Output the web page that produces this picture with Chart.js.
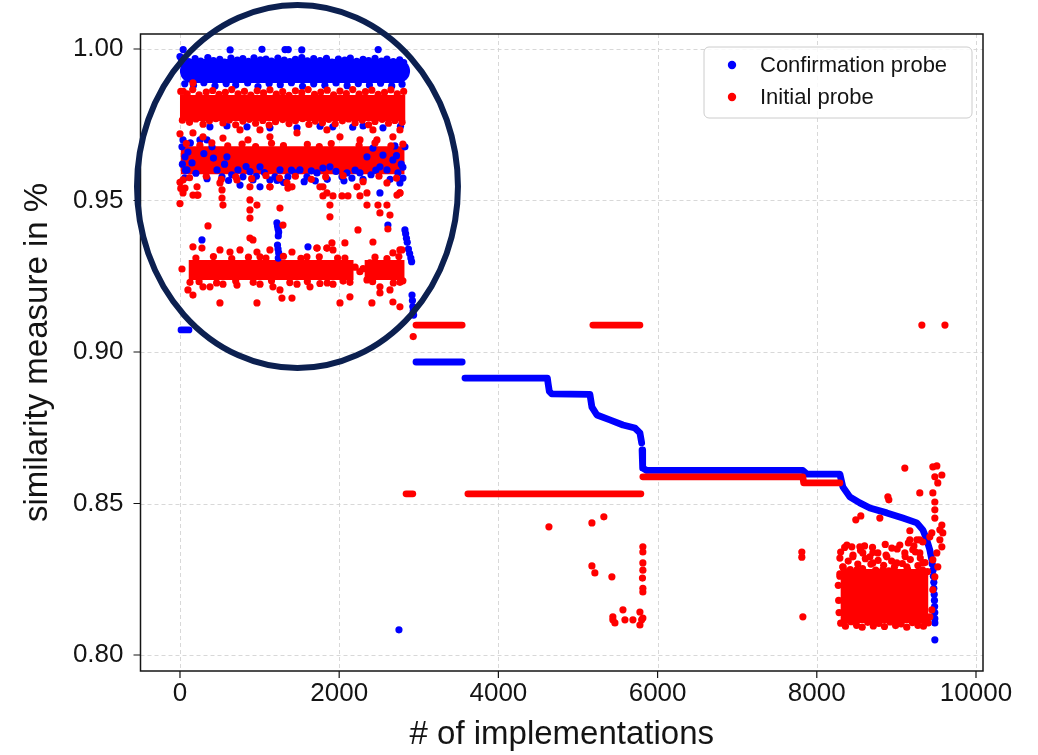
<!DOCTYPE html>
<html><head><meta charset="utf-8">
<script src="https://cdn.jsdelivr.net/npm/chart.js@4.4.1/dist/chart.umd.min.js"></script>
<style>html,body{margin:0;padding:0;background:#fff}canvas{display:block}</style>
</head><body>
<canvas id="c" width="1038" height="755"></canvas>
<script>
// ---------- tick labels / names ----------
const xTicks = [0, 2000, 4000, 6000, 8000, 10000];
const yTicks = [0.80, 0.85, 0.90, 0.95, 1.00];
const seriesNames = ['Confirmation probe', 'Initial probe'];
const xTitle = '# of implementations';
const yTitle = 'similarity measure in %';

// ---------- dense runs of points ----------
const blueTopBand   = [[150, 0.9927], [2740, 0.9927]];
const redTopBand    = [[0, 0.9805], [2830, 0.9805]];
const redMidBand    = [[10, 0.9633], [2820, 0.9633]];
const redLowBand1   = [[110, 0.9271], [2180, 0.9271]];
const redLowBand2   = [[2320, 0.9271], [2820, 0.9271]];
const redRightBand  = [[8300, 0.8195], [9400, 0.8195]];
const blue907       = [[13, 0.9073], [113, 0.9073]];
const blueStep1     = [[2965, 0.8967], [3545, 0.8967]];
const blueStep2     = [[3580, 0.8914], [4615, 0.8914], [4625, 0.8895], [4640, 0.8870], [4670, 0.8862], [5150, 0.8860], [5175, 0.8818], [5238, 0.8792], [5400, 0.8776], [5565, 0.8759], [5715, 0.8749], [5778, 0.8733], [5800, 0.8700]];
const blueStep3     = [[5805, 0.8677], [5810, 0.8637], [5815, 0.8617], [5865, 0.8609], [7825, 0.8609], [7875, 0.8597], [8290, 0.8597], [8327, 0.8555], [8415, 0.8522], [8540, 0.8502], [8667, 0.8485], [8880, 0.8469], [9081, 0.8452], [9257, 0.8436], [9332, 0.8413], [9382, 0.8380], [9420, 0.8347], [9445, 0.8314]];
const redStep909a   = [[2965, 0.9089], [3545, 0.9089]];
const redStep909b   = [[5187, 0.9089], [5778, 0.9089]];
const redStep853a   = [[2840, 0.8532], [2925, 0.8532]];
const redStep853b   = [[3617, 0.8532], [5790, 0.8532]];
const redStep859    = [[5815, 0.8588], [7825, 0.8588], [7835, 0.8568], [8290, 0.8568]];

// ---------- individual points ----------
const blueDots = [
 [20,0.9965],[110,0.9958],[190,0.9968],[260,0.9960],[350,0.9972],[420,0.9962],[500,0.9966],[560,0.9957],[640,0.9970],[720,0.9963],[790,0.9968],[860,0.9959],[930,0.9971],[1010,0.9964],[1080,0.9967],[1150,0.9960],[1230,0.9970],[1310,0.9963],[1380,0.9958],[1450,0.9966],[1530,0.9972],[1600,0.9961],[1680,0.9968],[1760,0.9962],[1840,0.9969],[1910,0.9957],[1990,0.9967],[2070,0.9963],[2140,0.9970],[2220,0.9959],[2300,0.9966],[2370,0.9962],[2450,0.9969],[2530,0.9960],[2600,0.9967],[2680,0.9958],[2760,0.9964],[2810,0.9955],
 [0,0.9975],[40,0.9998],[630,0.9997],[1030,0.9999],[1320,0.9998],[1360,0.9998],[1530,0.9997],[2490,0.9998],
 [60,0.9885],[170,0.9880],[300,0.9889],[440,0.9878],[580,0.9886],[700,0.9881],[850,0.9888],[980,0.9876],[1120,0.9886],[1260,0.9882],[1400,0.9889],[1540,0.9877],[1680,0.9885],[1820,0.9880],[1960,0.9888],[2100,0.9879],[2240,0.9886],[2380,0.9881],[2520,0.9887],[2660,0.9878],[2790,0.9884],
 [376,0.9743],[590,0.9746],[842,0.9743],[1130,0.9740],[1470,0.9740],[1760,0.9745],[1920,0.9743],[2170,0.9742],[2300,0.9746],[2550,0.9740],[2770,0.9745],
 [38,0.9700],[25,0.9677],[63,0.9644],[88,0.9601],[151,0.9624],[251,0.9700],[339,0.9700],[402,0.9677],[465,0.9601],[528,0.9578],[590,0.9644],[728,0.9601],[791,0.9578],[917,0.9568],[1005,0.9611],[1130,0.9568],[1193,0.9578],[1256,0.9601],[1356,0.9578],[1444,0.9591],[1507,0.9601],[1595,0.9578],[1721,0.9591],[1796,0.9607],[1884,0.9611],[2035,0.9578],[2098,0.9591],[2160,0.9574],[2261,0.9591],[2349,0.9644],[2424,0.9673],[2512,0.9611],[2600,0.9601],[2675,0.9634],[2738,0.9591],[2801,0.9574],[2826,0.9677],[2763,0.9558],[2512,0.9525],[754,0.9551],[1005,0.9545],
 [300,0.9655],[420,0.9640],[560,0.9620],[650,0.9585],[880,0.9595],[1300,0.9560],[1700,0.9565],[2200,0.9600],[2400,0.9585],[2550,0.9650],[2700,0.9680],[2780,0.9620],[100,0.9660],[60,0.9575],
 [200,0.9590],[340,0.9572],[610,0.9566],[830,0.9612],[960,0.9580],[1060,0.9592],[1220,0.9566],[1400,0.9600],[1560,0.9562],[1650,0.9598],[1850,0.9570],[1960,0.9596],[2060,0.9565],[2300,0.9570],[2460,0.9600],[2640,0.9570],[2720,0.9648],[2800,0.9610],[30,0.9620],[70,0.9600],[130,0.9690],
 [276,0.9370],[1608,0.9347],[2612,0.9419],[1218,0.9426],[1225,0.9416],[1232,0.9406],[1240,0.9396],[1235,0.9383],[1225,0.9353],[1232,0.9340],[1240,0.9327],[1235,0.9310],
 [2826,0.9403],[2835,0.9390],[2845,0.9375],[2855,0.9362],[2870,0.9340],[2885,0.9325],[2900,0.9310],[2910,0.9298],[2915,0.9188],[2920,0.9170],[2925,0.9150],[2930,0.9135],[2935,0.9122],
 [2751,0.8083],
 [9450,0.8300],[9460,0.8280],[9465,0.8260],[9470,0.8240],[9470,0.8220],[9475,0.8200],[9478,0.8180],[9480,0.8160],[9482,0.8140],[9483,0.8120],[9483,0.8106],[9483,0.8050]
];

const redDots = [
 [163,0.9888],[40,0.9860],
 [10,0.9860],[90,0.9852],[160,0.9866],[240,0.9849],[330,0.9858],[410,0.9863],[490,0.9850],[570,0.9857],[650,0.9866],[730,0.9852],[810,0.9860],[890,0.9848],[970,0.9862],[1050,0.9855],[1130,0.9865],[1210,0.9851],[1290,0.9859],[1370,0.9847],[1450,0.9862],[1530,0.9856],[1610,0.9866],[1690,0.9850],[1770,0.9858],[1850,0.9864],[1930,0.9849],[2010,0.9861],[2090,0.9853],[2170,0.9866],[2250,0.9851],[2330,0.9859],[2410,0.9864],[2490,0.9850],[2570,0.9857],[2650,0.9865],[2730,0.9852],[2810,0.9860],
 [30,0.9765],[120,0.9758],[200,0.9769],[290,0.9752],[370,0.9763],[450,0.9770],[540,0.9756],[620,0.9766],[700,0.9750],[790,0.9762],[870,0.9768],[950,0.9755],[1040,0.9764],[1120,0.9749],[1200,0.9760],[1290,0.9767],[1370,0.9754],[1450,0.9763],[1540,0.9770],[1620,0.9751],[1700,0.9762],[1790,0.9757],[1870,0.9768],[1950,0.9753],[2040,0.9763],[2120,0.9769],[2200,0.9756],[2290,0.9765],[2370,0.9750],[2450,0.9761],[2540,0.9768],[2620,0.9755],[2700,0.9764],[2790,0.9758],
 [163,0.9723],[289,0.9710],[540,0.9706],[854,0.9700],[754,0.9733],[1005,0.9733],[1130,0.9710],[1470,0.9723],[1846,0.9733],[2010,0.9710],[2474,0.9700],[2675,0.9710],[2763,0.9733],[2424,0.9733],[2261,0.9700],
 [38,0.9568],[214,0.9545],[502,0.9558],[716,0.9568],[879,0.9545],[1130,0.9545],[1344,0.9558],[1407,0.9545],[1758,0.9545],[1846,0.9525],[2223,0.9545],[2349,0.9525],[2600,0.9558],[2763,0.9525],[38,0.9525],[214,0.9518],
 [80,0.9688],[250,0.9682],[400,0.9690],[600,0.9680],[780,0.9686],[950,0.9678],[1150,0.9689],[1300,0.9681],[1600,0.9685],[1750,0.9678],[1900,0.9688],[2250,0.9682],[2450,0.9690],[2650,0.9680],[2800,0.9686],
 [120,0.9575],[330,0.9580],[520,0.9570],[700,0.9578],[900,0.9572],[1080,0.9582],[1250,0.9574],[1450,0.9580],[1650,0.9570],[1830,0.9578],[2050,0.9582],[2300,0.9562],[2500,0.9580],[2720,0.9574],
 [0,0.9720],[0,0.9560],[0,0.9490],[10,0.9540],
 [63,0.9541],[163,0.9518],[226,0.9518],[528,0.9535],[528,0.9508],[540,0.9485],[879,0.9502],[879,0.9469],[879,0.9442],[967,0.9485],[879,0.9376],[352,0.9416],[1256,0.9475],[1294,0.9419],[1130,0.9545],[1356,0.9541],[1796,0.9545],[1796,0.9515],[1884,0.9485],[1884,0.9446],[1922,0.9515],[2035,0.9515],[2110,0.9515],[2261,0.9515],[2349,0.9485],[2487,0.9485],[2600,0.9485],[2512,0.9459],[2638,0.9452],[2726,0.9518],[2763,0.9525],[2236,0.9403],[2424,0.9363],[2612,0.9406],[2763,0.9337],[2072,0.9360],[1909,0.9360],[917,0.9370],[1721,0.9343],[1846,0.9343],
 [163,0.9347],[276,0.9343],[502,0.9337],[628,0.9330],[754,0.9337],[967,0.9330],[1005,0.9314],[1130,0.9337],[1407,0.9330],[1595,0.9314],[1721,0.9343],[1846,0.9343],[1922,0.9337],[2072,0.9310],[2386,0.9294],[2675,0.9327],[2788,0.9337],
 [126,0.9230],[289,0.9215],[377,0.9215],[540,0.9224],[716,0.9221],[1005,0.9224],[1168,0.9215],[1256,0.9205],[1470,0.9224],[1633,0.9215],[1758,0.9226],[1922,0.9224],[2135,0.9230],[2349,0.9238],[2512,0.9215],[2638,0.9205],[2763,0.9230],[2512,0.9195],
 [25,0.9274],[100,0.9205],[163,0.9188],[502,0.9162],[967,0.9162],[1281,0.9178],[1407,0.9178],[2010,0.9162],[2135,0.9182],[2411,0.9162],[2675,0.9165],[2763,0.9149],
 [200,0.9310],[420,0.9315],[650,0.9308],[860,0.9313],[1080,0.9310],[1300,0.9316],[1520,0.9309],[1750,0.9314],[1980,0.9310],[2450,0.9313],[2600,0.9308],[2750,0.9315],
 [240,0.9232],[460,0.9228],[700,0.9234],[920,0.9230],[1150,0.9235],[1380,0.9229],[1600,0.9233],[1850,0.9228],[2050,0.9234],[2420,0.9232],[2680,0.9228],[2800,0.9235],
 [2200,0.9280],[2260,0.9265],[2300,0.9275],[2930,0.9051],
 [4635,0.8423],[5175,0.8436],[5325,0.8456],[5175,0.8294],[5212,0.8271],[5426,0.8258],
 [5438,0.8126],[5464,0.8106],[5565,0.8149],[5590,0.8116],[5690,0.8116],[5778,0.8142],[5800,0.8116],[5778,0.8099],[5815,0.8122],[5438,0.8116],
 [5815,0.8357],[5815,0.8340],[5815,0.8304],[5815,0.8280],[5810,0.8254],[5815,0.8220],[5815,0.8208],
 [7812,0.8340],[7812,0.8323],[7825,0.8126],
 [9320,0.9089],[9610,0.9089],
 [9106,0.8617],[9294,0.8535],[8893,0.8522],[8905,0.8512],[8792,0.8452],[8490,0.8446],[8553,0.8459],[9169,0.8410],[9294,0.8380],[9332,0.8373],
 [8378,0.8363],[8440,0.8357],[8541,0.8357],[8578,0.8337],[8290,0.8320],[8453,0.8324],[8667,0.8324],[8767,0.8337],[8880,0.8324],[8943,0.8353],[9043,0.8363],[9169,0.8380],[9106,0.8337],[9206,0.8347],[9294,0.8337],[9006,0.8304],[8704,0.8304],[8327,0.8291],[8503,0.8281],[8830,0.8281],[9131,0.8291],[9332,0.8304],[9257,0.8380],
 [8290,0.8268],[8330,0.8290],[8360,0.8275],[8395,0.8310],[8420,0.8282],[8455,0.8330],[8480,0.8270],[8515,0.8300],[8550,0.8345],[8575,0.8285],[8610,0.8318],[8640,0.8272],[8680,0.8300],[8705,0.8338],[8740,0.8280],[8770,0.8312],[8805,0.8270],[8840,0.8296],[8870,0.8330],[8905,0.8278],[8940,0.8310],[8975,0.8290],[9010,0.8350],[9040,0.8270],[9075,0.8302],[9110,0.8325],[9140,0.8283],[9175,0.8315],[9210,0.8272],[9240,0.8340],[9270,0.8295],[9300,0.8320],[9330,0.8280],[9360,0.8305],[9390,0.8275],[8350,0.8355],[8600,0.8360],[8860,0.8365],[9150,0.8370],[9220,0.8360],[8300,0.8340],[8700,0.8355],
 [8300,0.8105],[8360,0.8095],[8430,0.8110],[8500,0.8098],[8570,0.8092],[8640,0.8108],[8710,0.8096],[8780,0.8104],[8850,0.8094],[8920,0.8109],[8990,0.8097],[9060,0.8103],[9130,0.8092],[9200,0.8107],[9270,0.8098],[9340,0.8095],[9400,0.8106],
 [8275,0.8180],[8270,0.8230],[8280,0.8140],[8290,0.8260],
 [9458,0.8621],[9508,0.8624],[9483,0.8588],[9571,0.8594],[9520,0.8568],[9458,0.8535],[9483,0.8505],[9483,0.8479],[9483,0.8452],[9571,0.8429],[9445,0.8403],[9546,0.8380],[9571,0.8357],[9420,0.8390],[9508,0.8337],[9458,0.8314],[9520,0.8291],[9483,0.8258],[9458,0.8215],[9445,0.8149],[9420,0.8126],[9546,0.8413],[9583,0.8403]
];

// ---------- annotation (overlay ellipse, in data units) ----------
const highlightEllipse = { cx: 1476, cy: 0.9546, rx: 2016, ry: 0.0599 };
const xLimits = [-496, 10088];
const yLimits = [0.79472, 1.00495];

// ---------- styles ----------
const BLUE = '#0000ff', RED = '#ff0000', INK = '#141414', NAVY = '#0c2050';
const FONT = '"Liberation Sans", Arial, Helvetica, sans-serif';
const DOT_R = 3.6, STEP_W = 6.8;

function pts(a) { return a.map(p => ({ x: p[0], y: p[1] })); }
function run(data, color, width, cap, order) {
  return { data: pts(data), showLine: true, borderColor: color, backgroundColor: color,
    borderWidth: width, borderCapStyle: cap, borderJoinStyle: 'round', pointRadius: 0,
    pointHoverRadius: 0, tension: 0, order: order };
}
function dots(label, data, color, order) {
  return { label: label, data: pts(data), showLine: false, backgroundColor: color, borderColor: color,
    borderWidth: 0, pointRadius: DOT_R, pointHoverRadius: DOT_R, order: order };
}

const datasets = [
  dots(seriesNames[1], redDots, RED, 0),
  dots(seriesNames[0], blueDots, BLUE, 1),
  run(redTopBand, RED, 26, 'butt', 2),
  run(redMidBand, RED, 28, 'butt', 2),
  run(redLowBand1, RED, 20, 'butt', 2),
  run(redLowBand2, RED, 20, 'butt', 2),
  run(redRightBand, RED, 54, 'butt', 2),
  run(redStep909a, RED, STEP_W, 'round', 2),
  run(redStep909b, RED, STEP_W, 'round', 2),
  run(redStep853a, RED, STEP_W, 'round', 2),
  run(redStep853b, RED, STEP_W, 'round', 2),
  run(redStep859, RED, STEP_W, 'round', 2),
  run(blueTopBand, BLUE, 24, 'round', 3),
  run(blue907, BLUE, STEP_W, 'round', 3),
  run(blueStep1, BLUE, STEP_W, 'round', 3),
  run(blueStep2, BLUE, STEP_W, 'round', 3),
  run(blueStep3, BLUE, STEP_W, 'round', 3)
];

const decor = {
  id: 'decor',
  beforeDatasetsDraw(chart) {
    const { ctx, chartArea: a, scales: { x, y } } = chart;
    ctx.save();
    ctx.strokeStyle = '#d4d4d4';
    ctx.lineWidth = 0.9;
    ctx.setLineDash([4, 3]);
    ctx.beginPath();
    xTicks.forEach(v => { const p = Math.round(x.getPixelForValue(v)) + 0.5; ctx.moveTo(p, a.top); ctx.lineTo(p, a.bottom); });
    yTicks.forEach(v => { const p = Math.round(y.getPixelForValue(v)) + 0.5; ctx.moveTo(a.left, p); ctx.lineTo(a.right, p); });
    ctx.stroke();
    ctx.restore();
  },
  afterDraw(chart) {
    const { ctx, chartArea: a, scales: { x, y } } = chart;
    ctx.save();
    ctx.strokeStyle = INK; ctx.lineWidth = 1.5; ctx.setLineDash([]);
    ctx.strokeRect(a.left, a.top, a.right - a.left, a.bottom - a.top);
    ctx.lineWidth = 1.2;
    ctx.beginPath();
    xTicks.forEach(v => { const p = x.getPixelForValue(v); ctx.moveTo(p, a.bottom); ctx.lineTo(p, a.bottom + 7); });
    yTicks.forEach(v => { const p = y.getPixelForValue(v); ctx.moveTo(a.left, p); ctx.lineTo(a.left - 7, p); });
    ctx.stroke();
    const e = highlightEllipse;
    const cx = x.getPixelForValue(e.cx), cy = y.getPixelForValue(e.cy);
    const rx = Math.abs(x.getPixelForValue(e.cx + e.rx) - cx);
    const ry = Math.abs(y.getPixelForValue(e.cy + e.ry) - cy);
    ctx.strokeStyle = NAVY; ctx.lineWidth = 6;
    ctx.beginPath(); ctx.ellipse(cx, cy, rx, ry, 0, 0, Math.PI * 2); ctx.stroke();
    const bx = a.right - 279, by = a.top + 13, bw = 268, bh = 71;
    ctx.lineWidth = 1; ctx.strokeStyle = '#cccccc'; ctx.fillStyle = 'rgba(255,255,255,0.85)';
    ctx.beginPath(); ctx.roundRect(bx, by, bw, bh, 5); ctx.fill(); ctx.stroke();
    const items = [[seriesNames[0], BLUE], [seriesNames[1], RED]];
    ctx.font = '22px ' + FONT; ctx.textBaseline = 'middle'; ctx.textAlign = 'left';
    items.forEach((it, i) => {
      const yy = by + 18 + i * 32;
      ctx.fillStyle = it[1];
      ctx.beginPath(); ctx.arc(bx + 28, yy, 4.2, 0, Math.PI * 2); ctx.fill();
      ctx.fillStyle = INK;
      ctx.fillText(it[0], bx + 56, yy + 1);
    });
    ctx.restore();
  }
};

new Chart(document.getElementById('c'), {
  type: 'scatter',
  data: { datasets: datasets },
  plugins: [decor],
  options: {
    responsive: false, animation: false, devicePixelRatio: 1, events: [],
    layout: { padding: { left: 0, right: 55, top: 34, bottom: 0 } },
    plugins: { legend: { display: false }, tooltip: { enabled: false } },
    scales: {
      x: {
        type: 'linear', min: xLimits[0], max: xLimits[1],
        afterBuildTicks: s => { s.ticks = xTicks.map(v => ({ value: v })); },
        afterFit: s => { s.height = 84; },
        grid: { display: false, drawTicks: false }, border: { display: false },
        ticks: { padding: 7, color: INK, font: { family: FONT, size: 26 }, callback: v => String(v) },
        title: { display: true, text: xTitle, color: INK, font: { family: FONT, size: 33 }, padding: { top: 0, bottom: 0 } }
      },
      y: {
        type: 'linear', min: yLimits[0], max: yLimits[1],
        afterBuildTicks: s => { s.ticks = yTicks.map(v => ({ value: v })); },
        afterFit: s => { s.width = 140.5; },
        grid: { display: false, drawTicks: false }, border: { display: false },
        ticks: { padding: 17, color: INK, font: { family: FONT, size: 26 }, callback: v => Number(v).toFixed(2) },
        title: { display: true, text: yTitle, color: INK, font: { family: FONT, size: 33 }, padding: { top: 18, bottom: 0 } }
      }
    }
  }
});
</script>
</body></html>
